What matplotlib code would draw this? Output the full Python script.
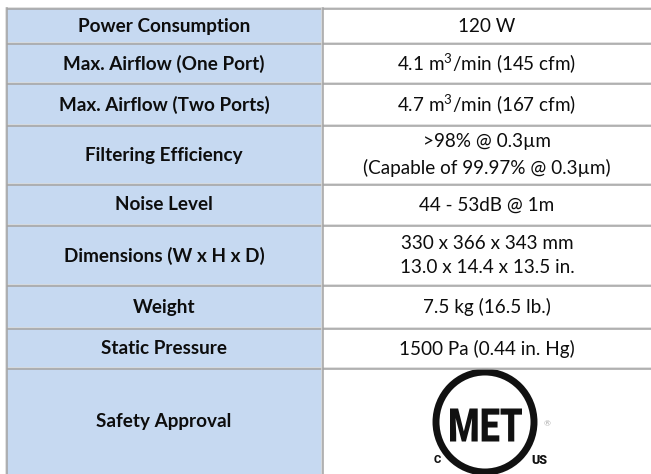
import matplotlib
matplotlib.use("Agg")
import matplotlib.pyplot as plt
from matplotlib.patches import Rectangle, Ellipse, PathPatch
from matplotlib.textpath import TextPath
from matplotlib.font_manager import FontProperties
from matplotlib.transforms import Affine2D

plt.rcParams['font.family'] = ['Lato', 'DejaVu Sans']
plt.rcParams['mathtext.fontset'] = 'custom'
plt.rcParams['mathtext.rm'] = 'Lato'

# table content
labels = ['Power Consumption', 'Max. Airflow (One Port)', 'Max. Airflow (Two Ports)',
          'Filtering Efficiency', 'Noise Level', 'Dimensions (W x H x D)',
          'Weight', 'Static Pressure', 'Safety Approval']
values = ['120 W',
          '4.1 m$^{3}$/min (145 cfm)',
          '4.7 m$^{3}$/min (167 cfm)',
          '>98% @ 0.3\u00b5m\n(Capable of 99.97% @ 0.3\u00b5m)',
          '44 - 53dB @ 1m',
          '330 x 366 x 343 mm\n13.0 x 14.4 x 13.5 in.',
          '7.5 kg (16.5 lb.)',
          '1500 Pa (0.44 in. Hg)',
          None]  # logo

# layout in pixels
W, H = 651, 474
row_edges = [8, 43, 83, 125, 184, 225, 285, 328, 368, 480]
x_left, x_mid, x_right = 6, 322, 652

fig = plt.figure(figsize=(W / 100, H / 100), dpi=100)
ax = fig.add_axes([0, 0, 1, 1])
ax.set_xlim(0, W)
ax.set_ylim(H, 0)
ax.axis('off')

light = '#d9d9d9'
dark = '#a3a3a3'
blue = '#c6d9f1'
ink = '#0d0d0d'

for i, (lab, val) in enumerate(zip(labels, values)):
    y0, y1 = row_edges[i], row_edges[i + 1]
    ax.add_patch(Rectangle((x_left, y0), x_mid - x_left, y1 - y0, color=blue, lw=0))
    ax.add_patch(Rectangle((x_mid, y0), x_right - x_mid, y1 - y0, color='white', lw=0))
    yc = (y0 + min(y1, H)) / 2
    ax.text((x_left + x_mid) / 2, yc + 0.5, lab, ha='center', va='center',
            fontsize=13.6, fontweight='bold', color=ink)
    if val is not None:
        ax.text((x_mid + x_right) / 2, yc + 0.5, val, ha='center', va='center',
                fontsize=13.6, color=ink, linespacing=1.55)

# horizontal borders (light over dark)
for y in row_edges[:-1]:
    ax.plot([x_left, x_right], [y - 0.5, y - 0.5], color=light, lw=1.1, solid_capstyle='butt')
    ax.plot([x_left, x_right], [y + 0.5, y + 0.5], color=dark, lw=1.1, solid_capstyle='butt')

# vertical borders
for x in (x_left, x_mid):
    ax.plot([x - 0.5, x - 0.5], [row_edges[0], H], color=light, lw=1.1)
    ax.plot([x + 0.5, x + 0.5], [row_edges[0], H], color=dark, lw=1.1)

# MET logo
cx, cy = 485, 422
ax.add_patch(Ellipse((cx, cy), 98, 100, fill=False, ec='#111111', lw=5))

# "MET" squeezed into a 72 x 33 px box
tp = TextPath((0, 0), 'MET', size=10,
              prop=FontProperties(family='Roboto', weight='black'))
bb = tp.get_extents()
sx = 72 / bb.width
sy = 33 / bb.height
tr = (Affine2D().translate(-bb.x0 - bb.width / 2, -bb.y0 - bb.height / 2)
      .scale(sx, -sy).translate(cx + 1, cy + 3))
ax.add_patch(PathPatch(tr.transform_path(tp), color='#111111', lw=0))

ax.text(cx - 48, cy + 38, 'C', ha='center', va='center', fontsize=8,
        fontweight='black', color='#111111', family=['Roboto', 'DejaVu Sans'])
ax.text(cx + 54, cy + 38, 'US', ha='center', va='center', fontsize=9,
        fontweight='black', color='#111111', family=['Roboto', 'DejaVu Sans'])
ax.text(cx + 62, cy + 2, '\u00ae', ha='center', va='center', fontsize=6,
        color='#aaaaaa')

fig.savefig('out.png', dpi=100)
